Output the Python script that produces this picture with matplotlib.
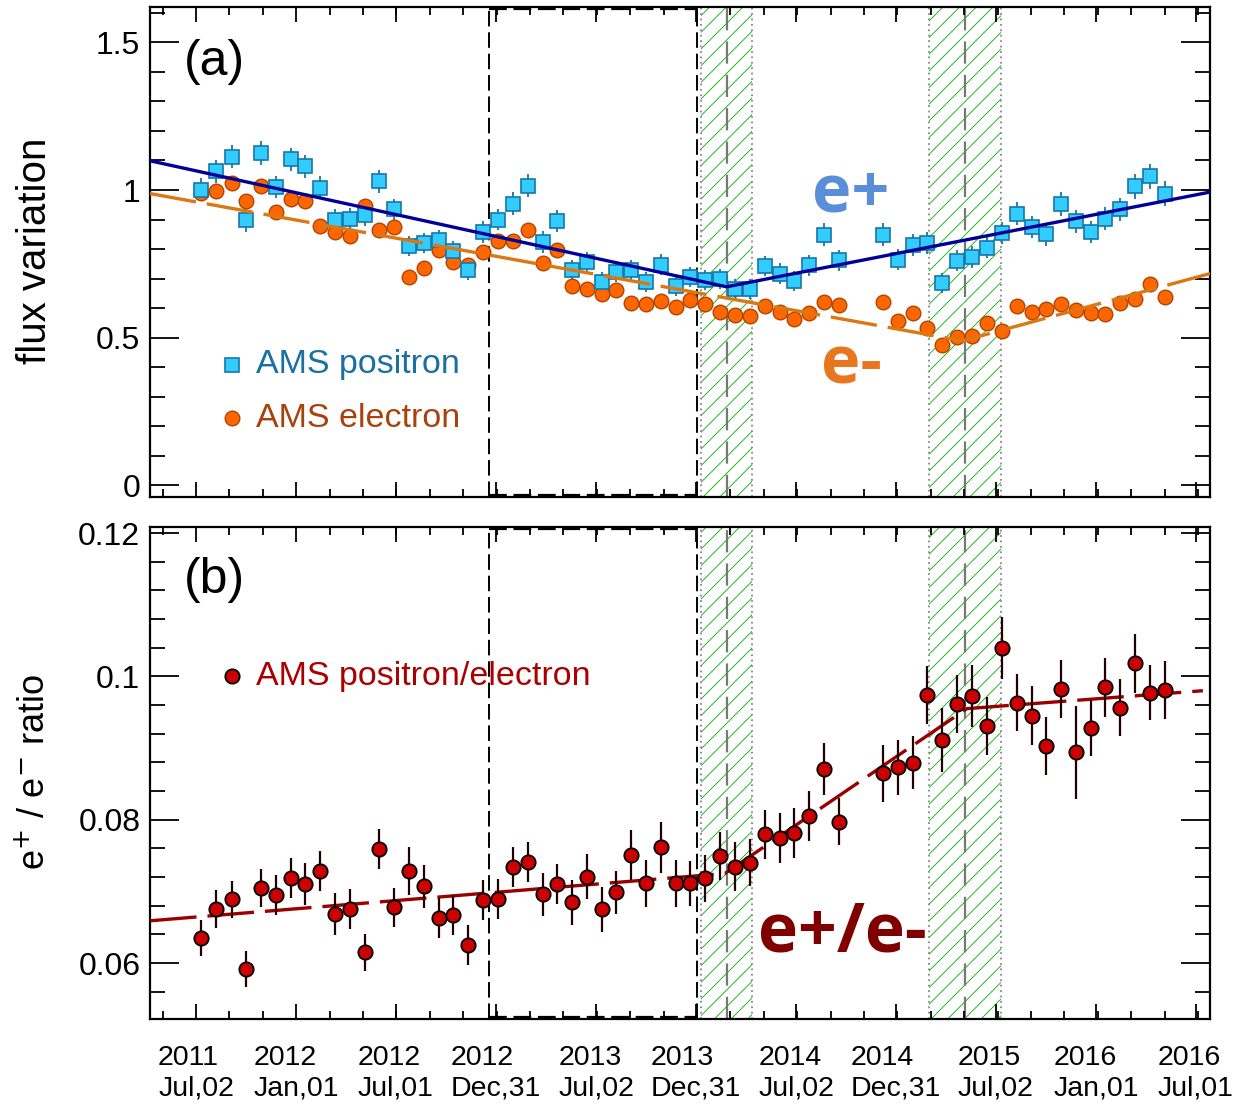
import numpy as np
import matplotlib
matplotlib.use('Agg')
import matplotlib.pyplot as plt
from matplotlib.ticker import AutoMinorLocator, MultipleLocator

plt.rcParams['font.family'] = ['Liberation Sans', 'DejaVu Sans']
plt.rcParams['hatch.linewidth'] = 0.6

# ---------------- data (x = days since 2011-07-02) ----------------
days = [10, 37, 65, 92, 119, 146, 173, 200, 227, 254, 281, 308, 335, 362, 389,
        416, 443, 470, 497, 525, 552, 579, 606, 633, 660, 687, 714, 741, 768,
        795, 822, 849, 876, 903, 930, 957, 985, 1012, 1039, 1066, 1093, 1120,
        1147, 1174,
        1255, 1282, 1309, 1336, 1363, 1390, 1418, 1445, 1472, 1499, 1526, 1553,
        1580, 1607, 1634, 1661, 1688, 1715, 1742, 1769]

pos_flux = [1.001, 1.063, 1.112, 0.897, 1.125, 1.010, 1.104, 1.081, 1.008, 0.900,
            0.903, 0.914, 1.029, 0.934, 0.810, 0.821, 0.830, 0.793, 0.730, 0.858,
            0.900, 0.954, 1.014, 0.824, 0.894, 0.728, 0.756, 0.689, 0.723, 0.730,
            0.689, 0.747, 0.674, 0.705, 0.694, 0.697, 0.666, 0.666, 0.742, 0.717,
            0.692, 0.745, 0.849, 0.762,
            0.849, 0.764, 0.813, 0.821, 0.685, 0.760, 0.773, 0.805, 0.854, 0.920,
            0.875, 0.850, 0.952, 0.894, 0.858, 0.903, 0.934, 1.013, 1.046, 0.988]
pos_err = [0.039, 0.039, 0.039, 0.038, 0.040, 0.038, 0.039, 0.039, 0.038, 0.037,
           0.037, 0.037, 0.039, 0.037, 0.035, 0.035, 0.036, 0.035, 0.034, 0.036,
           0.037, 0.038, 0.039, 0.036, 0.037, 0.034, 0.035, 0.034, 0.034, 0.034,
           0.034, 0.035, 0.034, 0.034, 0.034, 0.034, 0.034, 0.034, 0.035, 0.035,
           0.035, 0.036, 0.038, 0.036,
           0.038, 0.036, 0.037, 0.037, 0.035, 0.036, 0.036, 0.037, 0.038, 0.039,
           0.038, 0.038, 0.040, 0.039, 0.038, 0.039, 0.040, 0.042, 0.042, 0.041]

ele_flux = [0.990, 0.997, 1.025, 0.962, 1.013, 0.926, 0.971, 0.963, 0.877, 0.858,
            0.843, 0.945, 0.864, 0.873, 0.705, 0.737, 0.796, 0.756, 0.747, 0.789,
            0.827, 0.827, 0.866, 0.753, 0.798, 0.674, 0.666, 0.647, 0.660, 0.617,
            0.615, 0.624, 0.602, 0.629, 0.613, 0.587, 0.576, 0.573, 0.606, 0.587,
            0.562, 0.585, 0.619, 0.610,
            0.621, 0.555, 0.585, 0.534, 0.476, 0.502, 0.506, 0.551, 0.521, 0.606,
            0.587, 0.596, 0.613, 0.593, 0.585, 0.581, 0.617, 0.630, 0.680, 0.638]

ratio = [0.06353, 0.06754, 0.06889, 0.05916, 0.07047, 0.06949, 0.07191, 0.07103,
         0.07288, 0.06684, 0.06754, 0.06149, 0.07587, 0.06777, 0.07284, 0.07075,
         0.06624, 0.06670, 0.06251, 0.06879, 0.06893, 0.07336, 0.07414, 0.06963,
         0.07098, 0.06847, 0.07205, 0.06749, 0.06987, 0.07507, 0.07112, 0.07615,
         0.07112, 0.07112, 0.07182, 0.07493, 0.07344, 0.07400, 0.07796, 0.07749,
         0.07810, 0.08052, 0.08708, 0.07972,
         0.08648, 0.08731, 0.08796, 0.09740, 0.09112, 0.09615, 0.09727, 0.09308,
         0.10392, 0.09633, 0.09452, 0.09029, 0.09824, 0.08941, 0.09276, 0.09848,
         0.09563, 0.10183, 0.09773, 0.09810]
ratio_err = [0.0025, 0.0027, 0.0026, 0.0025, 0.0026, 0.0028, 0.0028, 0.0029, 0.0028,
             0.0029, 0.0028, 0.0026, 0.0028, 0.0027, 0.0033, 0.0030, 0.0028, 0.0028,
             0.0028, 0.0028, 0.0028,
             0.0028, 0.0028, 0.0030, 0.0028, 0.0031, 0.0031, 0.0031, 0.0030, 0.0035,
             0.0033, 0.0036, 0.0033, 0.0031, 0.0033, 0.0033, 0.0034, 0.0033, 0.0034,
             0.0035, 0.0035, 0.0035, 0.0036, 0.0033,
             0.0040, 0.0038, 0.0037, 0.0041, 0.0044, 0.0041, 0.0043, 0.0040, 0.0043,
             0.0040, 0.0041, 0.0040, 0.0040, 0.0065, 0.0039, 0.0041, 0.0040, 0.0041,
             0.0038, 0.0041]

# piecewise fits
pos_fit_x = [-84, 969, 1852]
pos_fit_y = [1.099, 0.672, 0.993]
ele_fit_x = [-84, 1400, 1852]
ele_fit_y = [0.988, 0.489, 0.717]
ratio_fit_x = [-84, 966, 1408, 1839]
ratio_fit_y = [0.0659, 0.0725, 0.0955, 0.0980]

# marked periods
box_period = [535, 915]
bands = [(922, 1015), (1339, 1471)]
band_centers = [970, 1404]

tick_days = [0, 183, 365, 548, 731, 913, 1096, 1278, 1461, 1644, 1826]
tick_labels = ['2011\nJul,02', '2012\nJan,01', '2012\nJul,01', '2012\nDec,31',
               '2013\nJul,02', '2013\nDec,31', '2014\nJul,02', '2014\nDec,31',
               '2015\nJul,02', '2016\nJan,01', '2016\nJul,01']

# ---------------- figure ----------------
W, H = 1249, 1104
fig = plt.figure(figsize=(W / 100, H / 100), dpi=100)

def box(l, t, r, b):
    return [l / W, 1 - b / H, (r - l) / W, (b - t) / H]

ax1 = fig.add_axes(box(150, 7, 1210, 497))
ax2 = fig.add_axes(box(150, 527, 1210, 1019))

XLIM = (-84, 1852)

c_pos_fill, c_pos_edge = '#33ccff', '#1577a8'
c_ele_fill, c_ele_edge = '#ff6600', '#b04400'
c_rat_fill = '#cc0000'
c_pos_line = '#000099'
c_ele_line = '#dd7711'
c_rat_line = '#990000'
c_hatch = '#00b000'

def decorate(ax):
    ax.set_xlim(*XLIM)
    for xv in box_period:
        ax.axvline(xv, color='black', lw=1.4, ls=(0, (8, 3)), zorder=1)
    for yv in (0.004, 0.996):
        ax.plot(box_period, [yv, yv], transform=ax.get_xaxis_transform(),
                color='black', lw=1.6, ls=(0, (8, 3)), zorder=1)
    for (a, b), c in zip(bands, band_centers):
        ax.axvspan(a, b, facecolor='none', edgecolor=c_hatch, hatch='//', lw=0, zorder=0.5)
        ax.axvline(a, color='#888888', lw=1.3, ls=(0, (1, 2)), zorder=1)
        ax.axvline(b, color='#888888', lw=1.3, ls=(0, (1, 2)), zorder=1)
        ax.axvline(c, color='#777777', lw=1.6, ls=(0, (10, 5)), zorder=1)
    ax.set_xticks(tick_days)
    ax.xaxis.set_minor_locator(AutoMinorLocator(3))
    ax.tick_params(which='both', direction='in', top=True, right=True,
                   width=1.3, labelsize=23, pad=7)
    ax.tick_params(axis='y', which='major', length=21)
    ax.tick_params(axis='y', which='minor', length=10.5)
    ax.tick_params(axis='x', which='major', length=11)
    ax.tick_params(axis='x', which='minor', length=5.5)
    for s in ax.spines.values():
        s.set_linewidth(1.6)

def tx(ax_l, ax_t, ax_r, ax_b, px, py):
    return ((px - ax_l) / (ax_r - ax_l), (ax_b - py) / (ax_b - ax_t))

T1 = (150, 7, 1210, 497)
T2 = (150, 527, 1210, 1019)

# ---------------- top panel ----------------
decorate(ax1)
ax1.set_ylim(-0.04, 1.62)
ax1.set_yticks([0, 0.5, 1, 1.5])
ax1.set_yticklabels(['0', '0.5', '1', '1.5'])
ax1.yaxis.set_minor_locator(MultipleLocator(0.1))
ax1.tick_params(axis='x', labelbottom=False)

ax1.errorbar(days, pos_flux, yerr=pos_err, fmt='none', ecolor=c_pos_edge,
             elinewidth=1.3, capsize=0, zorder=3)
ax1.plot(days, ele_flux, 'o', ms=10.5, mfc=c_ele_fill, mec=c_ele_edge, mew=1.0, zorder=3)
ax1.plot(days, pos_flux, 's', ms=10.2, mfc=c_pos_fill, mec=c_pos_edge, mew=1.2, zorder=4)
ax1.plot(pos_fit_x, pos_fit_y, color=c_pos_line, lw=2.4, zorder=5, solid_capstyle='butt')
ax1.plot(ele_fit_x, ele_fit_y, color=c_ele_line, lw=2.4, ls=(0, (14, 3.3)), zorder=5)

ax1.text(*tx(*T1, 184, 62), '(a)', transform=ax1.transAxes, fontsize=36,
         ha='left', va='center')
ax1.plot(*tx(*T1, 232, 365), 's', ms=10.2, mfc=c_pos_fill, mec=c_pos_edge, mew=1.2,
         transform=ax1.transAxes, clip_on=False)
ax1.plot(*tx(*T1, 232, 418), 'o', ms=10.5, mfc=c_ele_fill, mec=c_ele_edge, mew=1.0,
         transform=ax1.transAxes, clip_on=False)
ax1.text(*tx(*T1, 256, 365), 'AMS positron', transform=ax1.transAxes, fontsize=24.5,
         color='#1a6fa3', ha='left', va='center')
ax1.text(*tx(*T1, 256, 419), 'AMS electron', transform=ax1.transAxes, fontsize=24.5,
         color='#a8410c', ha='left', va='center')
ax1.text(*tx(*T1, 812, 212), 'e+', transform=ax1.transAxes, fontsize=48,
         fontweight='bold', family=['Open Sans', 'DejaVu Sans'], color='#5b8ed8',
         ha='left', va='baseline')
ax1.text(*tx(*T1, 821, 384), 'e-', transform=ax1.transAxes, fontsize=48,
         fontweight='bold', family=['Open Sans', 'DejaVu Sans'], color='#e8761e',
         ha='left', va='baseline')

# ---------------- bottom panel ----------------
decorate(ax2)
ax2.set_ylim(0.0522, 0.12084)
ax2.set_yticks([0.06, 0.08, 0.1, 0.12])
ax2.set_yticklabels(['0.06', '0.08', '0.1', '0.12'])
ax2.yaxis.set_minor_locator(MultipleLocator(0.004))
ax2.set_xticklabels(tick_labels)
ax2.tick_params(axis='x', labelsize=20.5, pad=19)
for lbl in ax2.get_xticklabels():
    lbl.set_multialignment('left')

ax2.plot(ratio_fit_x, ratio_fit_y, color=c_rat_line, lw=2.4, ls=(0, (14, 3.3)), zorder=3)
ax2.errorbar(days, ratio, yerr=ratio_err, fmt='o', ms=10.3, mfc=c_rat_fill, mec='black',
             mew=1.3, ecolor='#220000', elinewidth=1.6, capsize=0, zorder=4)

ax2.text(*tx(*T2, 184, 580), '(b)', transform=ax2.transAxes, fontsize=36,
         ha='left', va='center')
ax2.plot(*tx(*T2, 232, 676), 'o', ms=10.3, mfc=c_rat_fill, mec='black', mew=1.3,
         transform=ax2.transAxes, clip_on=False)
ax2.text(*tx(*T2, 256, 676), 'AMS positron/electron', transform=ax2.transAxes,
         fontsize=24.5, color='#aa0000', ha='left', va='center')
ax2.text(*tx(*T2, 758, 951), 'e+/e-', transform=ax2.transAxes, fontsize=49,
         fontweight='bold', family=['Open Sans', 'DejaVu Sans'], color='#800000',
         ha='left', va='baseline')

fig.text(35 / W, 1 - 251 / H, 'flux variation', rotation=90, fontsize=29,
         ha='center', va='center')
fig.text(35 / W, 1 - 772 / H, r'e$^{+}$ / e$^{-}$ ratio', rotation=90, fontsize=26,
         ha='center', va='center')

fig.savefig('out.png', dpi=100)
